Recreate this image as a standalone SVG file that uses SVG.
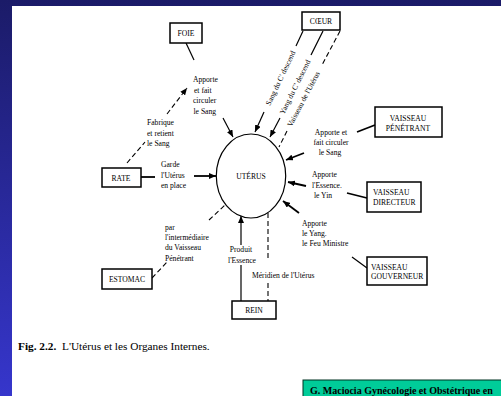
<svg xmlns="http://www.w3.org/2000/svg" width="501" height="396" viewBox="0 0 501 396">
<defs>
<linearGradient id="bg" x1="0" y1="0" x2="0" y2="1">
<stop offset="0" stop-color="#1b1b68"/>
<stop offset="1" stop-color="#3636cc"/>
</linearGradient>
<marker id="ah" markerUnits="userSpaceOnUse" markerWidth="8" markerHeight="6" refX="7" refY="3" orient="auto">
<path d="M0,0 L7,3 L0,6 z" fill="#000"/>
</marker>
<style>
.box{fill:#fff;stroke:#000;stroke-width:1.5}
.bt{font-family:"Liberation Serif","Times New Roman",serif;font-size:7.6px;fill:#000;text-anchor:middle}
.lt{font-family:"Liberation Serif","Times New Roman",serif;font-size:7.6px;fill:#000}
.ln{stroke:#000;stroke-width:1.2;fill:none}
.th{stroke:#000;stroke-width:1.8;fill:none}
.ds{stroke:#000;stroke-width:1.1;fill:none;stroke-dasharray:5 3}
.ar{marker-end:url(#ah)}
</style>
</defs>
<rect x="0" y="0" width="501" height="396" fill="url(#bg)"/>
<rect x="12" y="6" width="489" height="390" fill="#fff"/>

<g id="connectors">
<line class="ln" x1="186" y1="43" x2="194" y2="60"/>
<line class="ln ar" x1="223" y1="118" x2="233" y2="137"/>
<line class="ds" x1="127" y1="163" x2="145" y2="142"/>
<line class="ds ar" x1="167" y1="114" x2="187" y2="88"/>
<line class="th" x1="141" y1="177" x2="155" y2="177"/>
<line class="th ar" x1="194" y1="176" x2="216" y2="176"/>
<line class="ds" x1="152" y1="278" x2="168" y2="261"/>
<line class="ds" x1="209" y1="220" x2="225" y2="205"/>
<line class="ln" x1="241" y1="301" x2="241" y2="265"/>
<line class="ln ar" x1="241" y1="245" x2="241" y2="216"/>
<line class="ds" x1="268" y1="213" x2="268" y2="258"/>
<line class="ds" x1="268" y1="283" x2="268" y2="301"/>
<line class="th" x1="375" y1="125" x2="357" y2="132"/>
<line class="th ar" x1="304" y1="153" x2="286" y2="160"/>
<line class="th" x1="367" y1="198" x2="347" y2="193"/>
<line class="th ar" x1="306" y1="186" x2="288" y2="182"/>
<line class="ln" x1="367" y1="268" x2="352" y2="257"/>
<line class="th ar" x1="299" y1="213" x2="283" y2="201"/>
<line class="ln" x1="303" y1="31" x2="296" y2="46"/>
<line class="ln ar" x1="264" y1="112" x2="255" y2="132"/>
<line class="ln" x1="323" y1="31" x2="311" y2="55"/>
<line class="ln ar" x1="280" y1="118" x2="270" y2="137"/>
<line class="ds" x1="340" y1="31" x2="322" y2="65"/>
<line class="ds" x1="287" y1="131" x2="279" y2="147"/>
</g>

<g id="coeur-labels">
<text class="bt" transform="translate(280.5,78) rotate(-64.6)" dy="2.6">Sang du C' descend</text>
<text class="bt" transform="translate(295,87) rotate(-63.4)" dy="2.6">Yang du C' descend</text>
<text class="bt" transform="translate(303.5,99) rotate(-62.3)" dy="2.6">Vaisseau de l'Utérus</text>
</g>

<g id="uterus">
<ellipse cx="251" cy="176" rx="34.7" ry="42" fill="#fff" stroke="#000" stroke-width="1.2"/>
<text class="bt" x="251" y="179">UTÉRUS</text>
</g>

<g id="foie">
<rect class="box" x="170" y="23" width="32" height="20"/>
<text class="bt" x="186" y="36">FOIE</text>
</g>

<g id="coeur">
<rect class="box" x="302" y="12" width="38" height="18"/>
<text class="bt" x="321" y="24">CŒUR</text>
</g>

<g id="vaisseau-penetrant">
<rect class="box" x="375" y="107" width="67" height="30"/>
<text class="bt" x="408" y="121">VAISSEAU</text>
<text class="bt" x="408" y="131">PÉNÉTRANT</text>
</g>

<g id="vaisseau-directeur">
<rect class="box" x="367" y="182" width="54" height="30"/>
<text class="lt" x="373" y="195">VAISSEAU</text>
<text class="lt" x="373" y="205">DIRECTEUR</text>
</g>

<g id="vaisseau-gouverneur">
<rect class="box" x="367" y="257" width="60" height="28"/>
<text class="lt" x="371" y="269.5">VAISSEAU</text>
<text class="lt" x="371" y="279">GOUVERNEUR</text>
</g>

<g id="rate">
<rect class="box" x="102" y="168" width="39" height="19"/>
<text class="bt" x="121" y="180.5">RATE</text>
</g>

<g id="estomac">
<rect class="box" x="102" y="269" width="50" height="20"/>
<text class="bt" x="127" y="282">ESTOMAC</text>
</g>

<g id="rein">
<rect class="box" x="232" y="301" width="44" height="18"/>
<text class="bt" x="254" y="313">REIN</text>
</g>

<g id="labels">
<text class="lt" x="193" y="82">Apporte</text>
<text class="lt" x="194" y="92.5">et fait</text>
<text class="lt" x="193" y="103">circuler</text>
<text class="lt" x="193.5" y="113.5">le Sang</text>

<text class="lt" x="147" y="125">Fabrique</text>
<text class="lt" x="147" y="135.5">et retient</text>
<text class="lt" x="147" y="146">le Sang</text>

<text class="lt" x="161" y="166.5">Garde</text>
<text class="lt" x="161" y="177.5">l'Utérus</text>
<text class="lt" x="161" y="188">en place</text>

<text class="bt" x="331" y="134.5">Apporte et</text>
<text class="bt" x="331" y="144.5">fait circuler</text>
<text class="bt" x="330" y="155">le Sang</text>

<text class="lt" x="312" y="177">Apporte</text>
<text class="lt" x="312" y="187.5">l'Essence.</text>
<text class="lt" x="314" y="198">le Yin</text>

<text class="lt" x="302" y="225.5">Apporte</text>
<text class="lt" x="302" y="235.5">le Yang.</text>
<text class="lt" x="302" y="246">le Feu Ministre</text>

<text class="lt" x="165" y="229.5">par</text>
<text class="lt" x="165" y="239.5">l'intermédiaire</text>
<text class="lt" x="165" y="250">du Vaisseau</text>
<text class="lt" x="165" y="260.5">Pénétrant</text>

<text class="bt" x="241" y="252">Produit</text>
<text class="bt" x="242" y="263">l'Essence</text>

<text class="lt" x="252" y="278">Méridien de l'Utérus</text>
</g>

<g id="caption">
<text font-family="'Liberation Serif','Times New Roman',serif" font-size="11.3" fill="#000" x="18" y="350"><tspan font-weight="bold">Fig. 2.2.</tspan></text>
<text font-family="'Liberation Serif','Times New Roman',serif" font-size="11.3" fill="#000" x="62" y="350">L'Utérus et les Organes Internes.</text>
</g>

<g id="credit">
<rect x="303" y="380" width="200" height="18" fill="#00cc99" stroke="#003322" stroke-width="1"/>
<text font-family="'Liberation Serif','Times New Roman',serif" font-size="10" font-weight="bold" fill="#000" x="310" y="394">G. Maciocia Gynécologie et Obstétrique en</text>
</g>
</svg>
